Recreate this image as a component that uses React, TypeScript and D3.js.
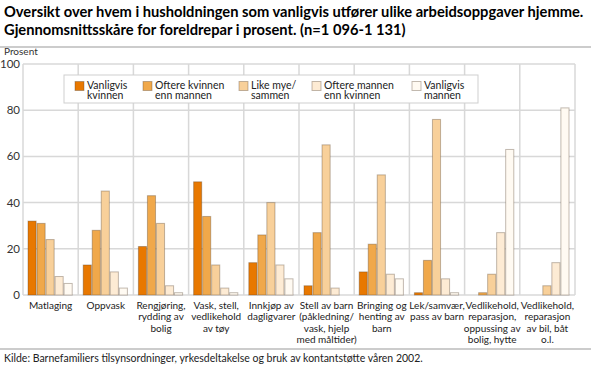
import React from 'react';
import { scaleBand, scaleLinear } from 'd3';

const categories = [
  ['Matlaging'],
  ['Oppvask'],
  ['Rengjøring,', 'rydding av', 'bolig'],
  ['Vask, stell,', 'vedlikehold', 'av tøy'],
  ['Innkjøp av', 'dagligvarer'],
  ['Stell av barn', '(påkledning/', 'vask, hjelp', 'med måltider)'],
  ['Bringing og', 'henting av', 'barn'],
  ['Lek/samvær,', 'pass av barn'],
  ['Vedlikehold,', 'reparasjon,', 'oppussing av', 'bolig, hytte'],
  ['Vedlikehold,', 'reparasjon', 'av bil, båt', 'o.l.'],
];

const seriesNames = [
  ['Vanligvis', 'kvinnen'],
  ['Oftere kvinnen', 'enn mannen'],
  ['Like mye/', 'sammen'],
  ['Oftere mannen', 'enn kvinnen'],
  ['Vanligvis', 'mannen'],
];

const vanligvisKvinnen = [32, 13, 21, 49, 14, 4, 10, 1, 0, 0];
const oftereKvinnen = [31, 28, 43, 34, 26, 27, 22, 15, 1, 0];
const likeMye = [24, 45, 31, 13, 40, 65, 52, 76, 9, 4];
const oftereMannen = [8, 10, 4, 3, 13, 3, 9, 7, 27, 14];
const vanligvisMannen = [5, 3, 1, 1, 7, 0, 7, 1, 63, 81];

const series = [vanligvisKvinnen, oftereKvinnen, likeMye, oftereMannen, vanligvisMannen];
const colors = ['#e87800', '#f0a84a', '#f8d09a', '#fdebd4', '#fffaf2'];
const yTicks = [0, 20, 40, 60, 80, 100];

const font = "Lato, 'DejaVu Sans', sans-serif";

const left = 23;
const right = 575;
const top = 64;
const bottom = 295;

// legend item offsets (layout)
const legendX = [75, 143, 239, 312, 412];

export default function App() {
  const x = scaleBand<number>().domain(categories.map((_, i) => i)).range([left, right]);
  const bw = x.bandwidth();
  const xi = scaleBand<number>().domain(series.map((_, i) => i)).range([5, bw - 6]).paddingInner(0.1);
  const y = scaleLinear().domain([0, 100]).range([bottom, top]);

  return (
    <svg width={591} height={366} style={{ position: 'absolute', left: 0, top: 0, background: '#fff' }} fontFamily={font}>
      <text x={4} y={17} fontSize={14.7} fontWeight="bold" fill="#000">
        Oversikt over hvem i husholdningen som vanligvis utfører ulike arbeidsoppgaver hjemme.
      </text>
      <text x={4} y={35} fontSize={14.7} fontWeight="bold" fill="#000">
        Gjennomsnittsskåre for foreldrepar i prosent. (n=1 096-1 131)
      </text>
      <line x1={0} x2={591} y1={47} y2={47} stroke="#999" strokeWidth={1} />
      <text x={4} y={55} fontSize={10} fill="#333">Prosent</text>

      {/* grid */}
      {yTicks.map(t => (
        <g key={t}>
          <line x1={left} x2={right} y1={y(t)} y2={y(t)} stroke="#d8d8d8" strokeWidth={1.5} />
          <text x={20} y={y(t) + 4} fontSize={11.5} textAnchor="end" fill="#333">{t}</text>
        </g>
      ))}
      {categories.map((_, i) => (
        <line key={i} x1={x(i)!} x2={x(i)!} y1={top} y2={bottom} stroke="#d8d8d8" strokeWidth={1.5} />
      ))}
      <line x1={right} x2={right} y1={top} y2={bottom} stroke="#d8d8d8" strokeWidth={1.5} />

      {/* bars */}
      {categories.map((_, i) => (
        <g key={i} transform={`translate(${x(i)},0)`}>
          {series.map((s, j) => (
            <rect key={j} x={xi(j)!} y={y(s[i])} width={xi.bandwidth()} height={y(0) - y(s[i])}
              fill={colors[j]} stroke="rgba(80,60,40,0.35)" strokeWidth={1} />
          ))}
        </g>
      ))}

      {/* category labels */}
      {categories.map((lines, i) => (
        <text key={i} x={x(i)! + bw / 2} y={309} fontSize={10} textAnchor="middle" fill="#222">
          {lines.map((l, k) => (
            <tspan key={k} x={x(i)! + bw / 2} dy={k === 0 ? 0 : 11.3}>{l}</tspan>
          ))}
        </text>
      ))}

      {/* legend */}
      <rect x={64} y={75} width={414} height={28} fill="#fff" stroke="#cfcfcf" strokeWidth={1} />
      {seriesNames.map((lines, j) => (
        <g key={j} transform={`translate(${legendX[j]},0)`}>
          <rect x={0} y={81.5} width={9} height={9} fill={colors[j]} stroke="rgba(80,60,40,0.35)" />
          <text x={12} y={88.5} fontSize={10.5} fill="#222">
            {lines.map((l, k) => (
              <tspan key={k} x={12} dy={k === 0 ? 0 : 10.5}>{l}</tspan>
            ))}
          </text>
        </g>
      ))}

      <line x1={0} x2={591} y1={349} y2={349} stroke="#bbb" strokeWidth={1.5} />
      <text x={4} y={362} fontSize={10.5} fill="#222">
        Kilde: Barnefamiliers tilsynsordninger, yrkesdeltakelse og bruk av kontantstøtte våren 2002.
      </text>
    </svg>
  );
}
